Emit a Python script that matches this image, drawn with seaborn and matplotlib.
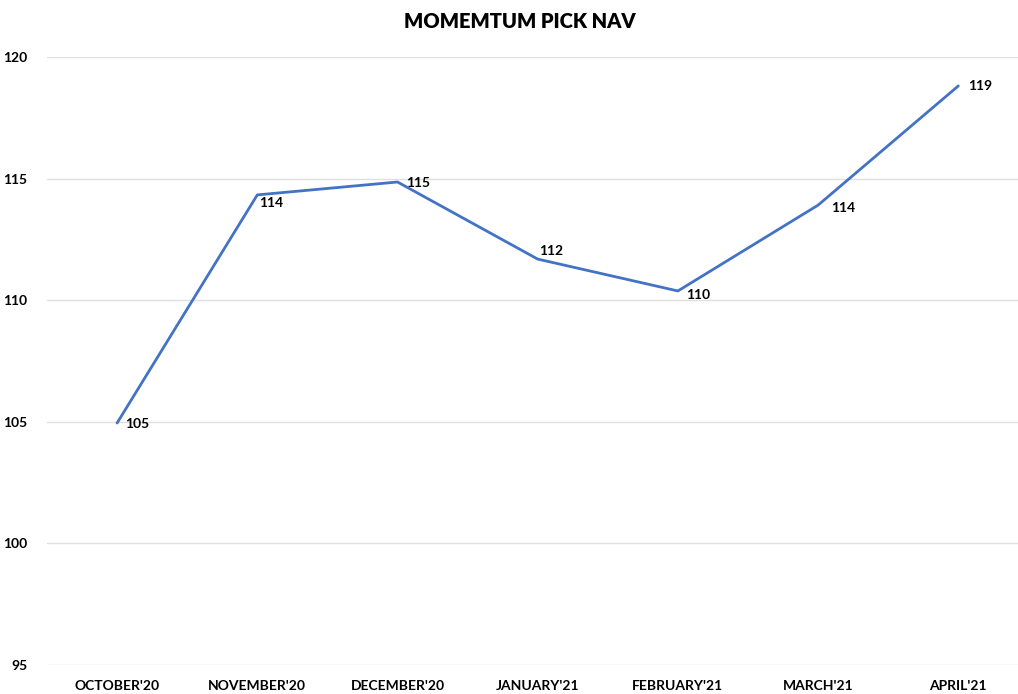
import matplotlib.pyplot as plt
import seaborn as sns
import pandas as pd

months = ["OCTOBER'20", "NOVEMBER'20", "DECEMBER'20", "JANUARY'21",
          "FEBRUARY'21", "MARCH'21", "APRIL'21"]
nav = [104.95, 114.33, 114.86, 111.69, 110.38, 113.91, 118.81]
labels = ["105", "114", "115", "112", "110", "114", "119"]
yticks = [95, 100, 105, 110, 115, 120]

# offsets des étiquettes (en points)
offsets = [(6, -1), (1, -6), (6, -1), (1, 6), (6, -3), (9, -2), (7, 0)]

sns.set_style("white")
plt.rcParams["font.family"] = ["Lato", "DejaVu Sans"]
plt.rcParams["text.color"] = "black"
plt.rcParams["xtick.color"] = "black"
plt.rcParams["ytick.color"] = "black"

df = pd.DataFrame({"month": months, "nav": nav})

fig = plt.figure(figsize=(10.18, 6.94), dpi=100)
ax = fig.add_axes([47 / 1018, 1 - 665 / 694, 1 - 47 / 1018, (665 - 57) / 694])

sns.lineplot(data=df, x="month", y="nav", sort=False, color="#4472C4",
             linewidth=2, ax=ax)

for i, (lab, off) in enumerate(zip(labels, offsets)):
    ax.annotate(lab, (i, nav[i]), xytext=off, textcoords="offset points",
                ha="left", va="center", fontsize=10, fontweight="bold",
                color="black")

ax.set_ylim(95, 120)
ax.set_xlim(-0.5, (1018 - 47) / 140.2 - 0.5)
ax.set_yticks(yticks)
ax.yaxis.grid(True, color="#e0e0e0", linewidth=1)
ax.set_axisbelow(True)
for s in ax.spines.values():
    s.set_visible(False)
ax.tick_params(axis="both", length=0, labelsize=10)
ax.tick_params(axis="y", pad=14)
ax.tick_params(axis="x", pad=11)
for t in ax.get_xticklabels() + ax.get_yticklabels():
    t.set_fontweight("bold")
ax.set_xlabel("")
ax.set_ylabel("")

fig.text(520 / 1018, 1 - 22 / 694, "MOMEMTUM PICK NAV", ha="center",
         va="center", fontsize=14.5, fontweight="heavy", color="black")

fig.savefig("out.png", dpi=100)
